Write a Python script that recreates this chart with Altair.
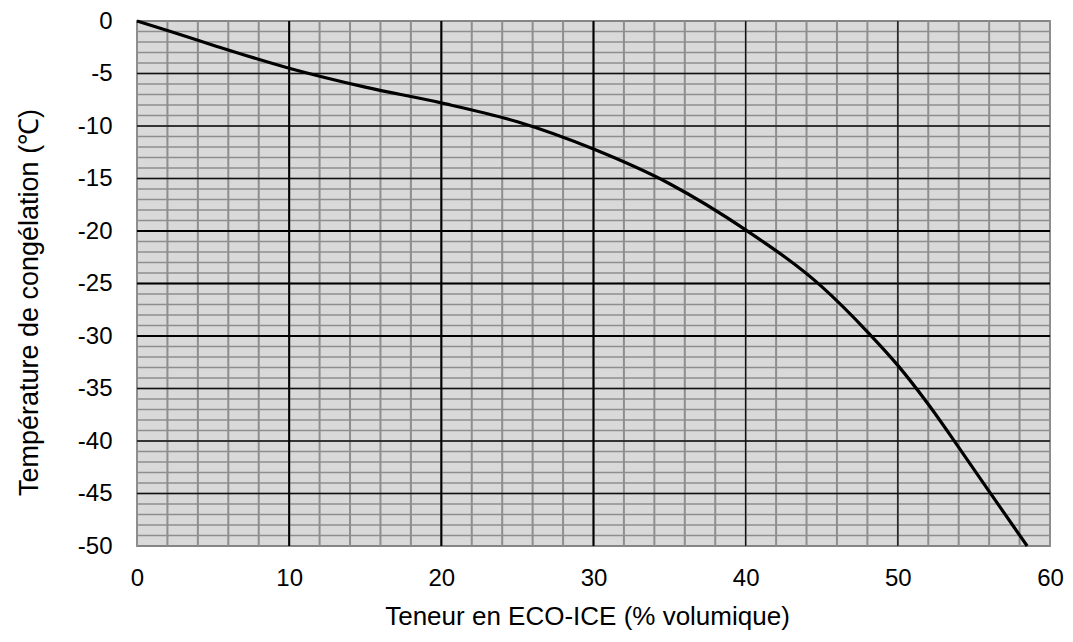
import altair as alt
import pandas as pd

# Curve data
conc = [0, 2, 5, 10, 15, 20, 25, 30, 35, 40, 45, 48, 50, 52, 54, 56, 58.5]
temp = [0, -0.9, -2.3, -4.5, -6.3, -7.8, -9.6, -12.2, -15.5, -19.9, -25.3, -29.6, -32.8, -36.5, -40.6, -44.8, -50.0]

x_ticks = [0, 10, 20, 30, 40, 50, 60]
y_ticks = [0, -5, -10, -15, -20, -25, -30, -35, -40, -45, -50]
x_minor = [v for v in range(0, 61, 2)]
y_minor = [v for v in range(0, -51, -1)]
x_major_bold = [10, 20, 30]
x_major_thin = [40, 50]
y_major_bold = [-20, -25, -30]
y_major_thin = [-5, -10, -15, -35, -40, -45]

FONT = "Liberation Sans"
xs = alt.Scale(domain=[0, 60], nice=False, zero=False)
ys = alt.Scale(domain=[-50, 0], nice=False, zero=False)

x_axis = alt.Axis(values=x_ticks, grid=False, ticks=False, domain=False,
                  labelFont=FONT, labelFontSize=24, labelColor="#000",
                  labelPadding=20, labelFlush=False, labelExpr="toString(datum.value)",
                  title="Teneur en ECO-ICE (% volumique)",
                  titleFont=FONT, titleFontSize=26, titleFontWeight="normal",
                  titleColor="#000", titleBaseline="middle", titleAlign="center",
                  titleX=450, titleY=70)
y_axis = alt.Axis(values=y_ticks, grid=False, ticks=False, domain=False,
                  labelFont=FONT, labelFontSize=24, labelColor="#000",
                  labelPadding=25, labelFlush=False, labelExpr="toString(datum.value)",
                  title="Température de congélation (℃)",
                  titleFont=FONT, titleFontSize=27, titleFontWeight="normal",
                  titleColor="#000", titleBaseline="middle", titleAlign="center",
                  titleX=-108, titleY=281, titleAngle=-90)

curve_df = pd.DataFrame({"x": conc, "y": temp})


def vrules(vals, color, width):
    return alt.Chart(pd.DataFrame({"x": vals})).mark_rule(color=color, strokeWidth=width).encode(
        x=alt.X("x:Q", scale=xs, axis=x_axis))


def hrules(vals, color, width):
    return alt.Chart(pd.DataFrame({"y": vals})).mark_rule(color=color, strokeWidth=width).encode(
        y=alt.Y("y:Q", scale=ys, axis=y_axis))


grid_gray = "#8e8e8e"
layers = [
    hrules(y_minor, grid_gray, 1.6),
    vrules(x_minor, grid_gray, 2),
    hrules(y_major_thin, "#111", 1.3),
    hrules(y_major_bold, "#000", 2),
    vrules(x_major_thin, "#111", 1.3),
    vrules(x_major_bold, "#000", 2),
    alt.Chart(curve_df).mark_line(color="#000", strokeWidth=3.2, interpolate="monotone").encode(
        x=alt.X("x:Q", scale=xs, axis=x_axis),
        y=alt.Y("y:Q", scale=ys, axis=y_axis)),
]

chart = alt.layer(*layers).properties(
    width=913, height=525,
    autosize=alt.AutoSizeParams(type="none"),
    padding={"left": 129, "top": 13, "right": 15, "bottom": 88},
    background="white",
).configure_view(fill="#d9d9d9", stroke="#444", strokeWidth=1.5)

chart.save("out.html", embed_options={"renderer": "svg", "actions": False})
